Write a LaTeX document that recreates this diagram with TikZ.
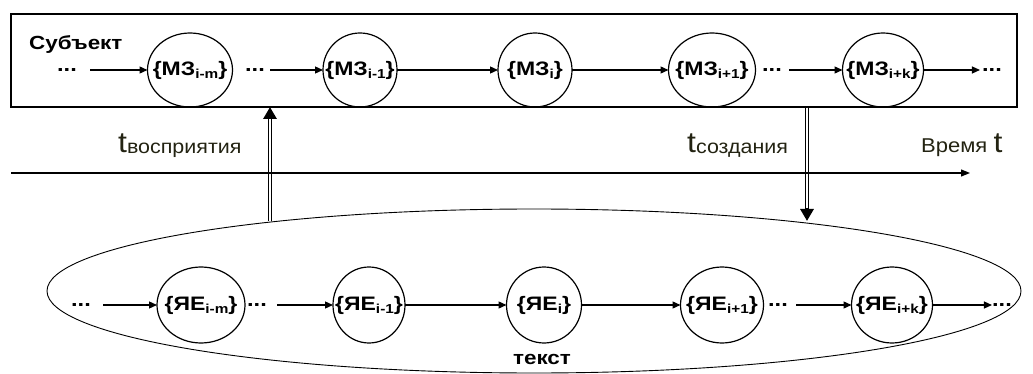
\documentclass[tikz,border=0pt]{standalone}
\usepackage{fontspec}
\setmainfont{Liberation Sans}
\newfontfamily\widebold[FakeStretch=1.18]{Liberation Sans}
\newfontfamily\widereg[FakeStretch=1.1]{Liberation Sans}
\usetikzlibrary{arrows.meta,shapes.geometric}

% lowered small index inside the state labels
\newcommand\idx[1]{\raisebox{-3.5pt}{\fontsize{13}{13}\selectfont #1}}
% time label: large t with a lowered word
\newcommand\tlabel[1]{{\fontsize{29}{30}\selectfont t}\raisebox{-1pt}{\fontsize{19.5}{20}\selectfont #1}}

\definecolor{labelcol}{RGB}{35,35,18}

\begin{document}
\begin{tikzpicture}[x=1pt,y=-1pt,
  state/.style={draw, ellipse, line width=1.2pt, minimum height=74pt,
    inner sep=0pt, outer sep=0pt, font=\widebold\bfseries\fontsize{19.5}{19.5}\selectfont},
  dots/.style={inner sep=0pt, font=\widebold\bfseries\fontsize{20}{20}\selectfont},
  flow/.style={-{Triangle[length=8pt,width=7pt]}, line width=1.3pt},
  timeaxis/.style={-{Triangle[length=9pt,width=7pt]}, line width=1.1pt},
  bigarrow/.style={-{Triangle[length=12pt,width=13pt]}, line width=4.6pt},
  bigarrowgap/.style={white, line width=1.4pt},
  tlab/.style={inner sep=0pt, anchor=base west, text=labelcol, font=\widereg}
]
\path[use as bounding box] (0,0) rectangle (1033,374);

% ---------- subject (upper frame) ----------
\node[draw, line width=1.2pt, minimum width=1006pt, minimum height=93pt,
      inner sep=0pt, outer sep=0pt, anchor=north west] (subj) at (11,14) {};
\node[inner sep=0pt, anchor=base west, font=\widebold\bfseries\fontsize{19}{19}\selectfont] (subjlabel) at (29,50) {Субъект};

\node[dots] (md0) at (67,70) {...};
\node[state, minimum width=85pt] (m1) at (190,70) {\makebox[0pt]{\{МЗ\idx{i-m}\}}};
\node[dots] (md1) at (255,70) {...};
\node[state, minimum width=74pt] (m2) at (360,70) {\makebox[0pt]{\{МЗ\idx{i-1}\}}};
\node[state, minimum width=74pt] (m3) at (535,70) {\makebox[0pt]{\{МЗ\idx{i}\}}};
\node[state, minimum width=87pt] (m4) at (712,70) {\makebox[0pt]{\{МЗ\idx{i+1}\}}};
\node[dots] (md2) at (772,70) {...};
\node[state, minimum width=81pt] (m5) at (883,70) {\makebox[0pt]{\{МЗ\idx{i+k}\}}};
\node[dots] (md3) at (992,70) {...};

\draw[flow, shorten <=13pt] (md0) -- (m1);
\draw[flow, shorten <=5pt] (md1) -- (m2);
\draw[flow] (m2) -- (m3);
\draw[flow] (m3) -- (m4);
\draw[flow, shorten <=7pt] (md2) -- (m5);
\draw[flow, shorten >=2pt] (m5) -- (md3);

% ---------- text (lower ellipse) ----------
\node[draw, ellipse, line width=0.9pt, minimum width=974pt, minimum height=164pt,
      inner sep=0pt] (txt) at (534,291) {};
\node[inner sep=0pt, font=\widebold\bfseries\fontsize{19}{19}\selectfont] (txtlabel) at (542,359) {текст};

\node[dots] (yd0) at (81,305) {...};
\node[state, minimum width=88pt, minimum height=76pt] (y1) at (201,305) {\makebox[0pt]{\{ЯЕ\idx{i-m}\}}};
\node[dots] (yd1) at (257,305) {...};
\node[state, minimum width=72pt, minimum height=76pt] (y2) at (369,305) {\makebox[0pt]{\{ЯЕ\idx{i-1}\}}};
\node[state, minimum width=75pt, minimum height=76pt] (y3) at (544,305) {\makebox[0pt]{\{ЯЕ\idx{i}\}}};
\node[state, minimum width=83pt, minimum height=76pt] (y4) at (722,305) {\makebox[0pt]{\{ЯЕ\idx{i+1}\}}};
\node[dots] (yd2) at (778,305) {...};
\node[state, minimum width=81pt, minimum height=76pt] (y5) at (892,305) {\makebox[0pt]{\{ЯЕ\idx{i+k}\}}};
\node[dots] (yd3) at (1002,305) {...};

\draw[flow, shorten <=12pt] (yd0) -- (y1);
\draw[flow, shorten <=10pt] (yd1) -- (y2);
\draw[flow] (y2) -- (y3);
\draw[flow] (y3) -- (y4);
\draw[flow, shorten <=8pt] (yd2) -- (y5);
\draw[flow] (y5) -- (yd3);

% ---------- perception and creation arrows ----------
\coordinate (perc) at (270,221);
\coordinate (creat) at (807,221);
\draw[bigarrow] (perc) -- (perc |- subj.south);
\draw[bigarrowgap, shorten >=12.5pt] (perc) -- (perc |- subj.south);
\draw[bigarrow] (creat |- subj.south) -- (creat);
\draw[bigarrowgap, shorten >=12.5pt, shorten <=0.6pt] (creat |- subj.south) -- (creat);

% ---------- time axis ----------
\coordinate (t0) at (11,173);
\coordinate (t1) at (970,173);
\draw[timeaxis] (t0) -- (t1);

\node[tlab] (tperc) at (118,153) {\tlabel{восприятия}};
\node[tlab] (tcreat) at (687,153) {\tlabel{создания}};
\node[tlab] (timelab) at (921,153) {{\fontsize{20}{20}\selectfont Время }{\fontsize{29}{29}\selectfont t}};
\end{tikzpicture}
\end{document}
